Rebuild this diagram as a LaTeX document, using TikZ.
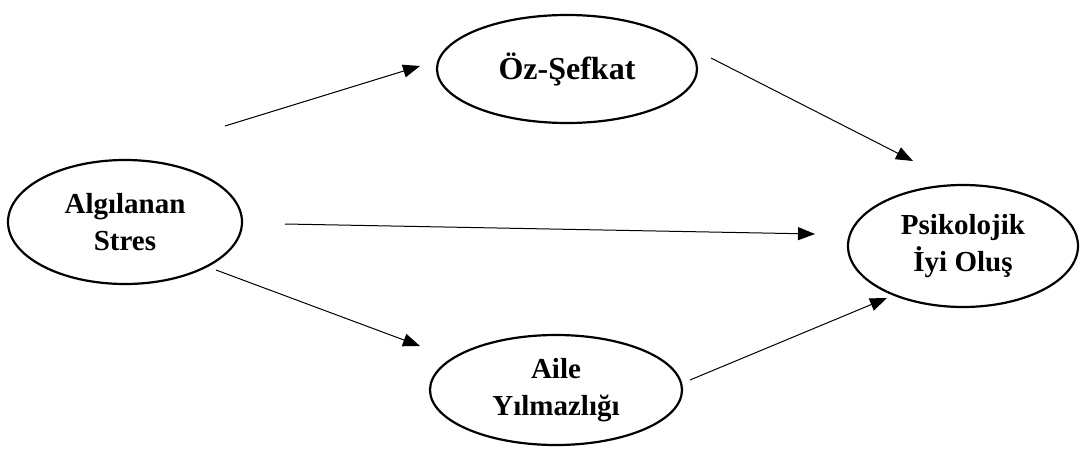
\documentclass[tikz,border=0pt]{standalone}
\usepackage{fontspec}
\setmainfont{Liberation Serif}
\usetikzlibrary{shapes.geometric,arrows.meta}
\begin{document}
\begin{tikzpicture}[x=1pt,y=-1pt,
  oval/.style={draw,line width=2.2pt,ellipse,inner sep=0pt,align=center,font=\fontsize{29}{37}\selectfont\bfseries},
  conn/.style={line width=1pt,-{Triangle[length=17pt,width=13pt]}}]
\useasboundingbox (0,0) rectangle (1085,450);
\node[oval,minimum width=260pt,minimum height=108pt,font=\fontsize{32}{38}\selectfont\bfseries] (oz) at (567,69) {Öz-Şefkat};
\node[oval,minimum width=234pt,minimum height=124pt] (as) at (125,222) {Algılanan\\Stres};
\node[oval,minimum width=230pt,minimum height=122pt] (pi) at (963,246) {Psikolojik\\İyi Oluş};
\node[oval,minimum width=252pt,minimum height=110pt] (ay) at (556,390) {Aile\\Yılmazlığı};
\coordinate (a1s) at (225,126); \coordinate (a1e) at (420,66);
\coordinate (a2s) at (711,58);  \coordinate (a2e) at (913,161);
\coordinate (a3s) at (285,224); \coordinate (a3e) at (815,234);
\coordinate (a4s) at (216,270); \coordinate (a4e) at (420,346);
\coordinate (a5s) at (690,380); \coordinate (a5e) at (887,298);
\draw[conn] (a1s) -- (a1e);
\draw[conn] (a2s) -- (a2e);
\draw[conn] (a3s) -- (a3e);
\draw[conn] (a4s) -- (a4e);
\draw[conn] (a5s) -- (a5e);
\end{tikzpicture}
\end{document}
